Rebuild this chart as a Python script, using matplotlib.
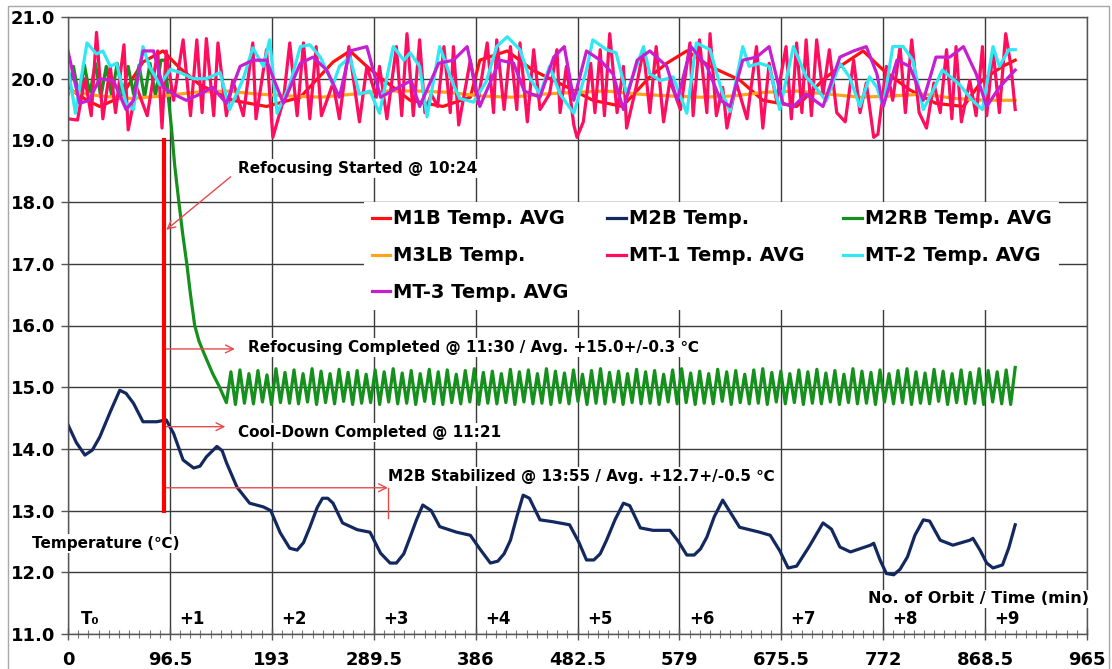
import numpy as np
import matplotlib
matplotlib.use('Agg')
import matplotlib.pyplot as plt
from matplotlib.patches import Rectangle
from matplotlib.ticker import MultipleLocator

plt.rcParams['font.family'] = ['DejaVu Sans', 'Noto Sans CJK KR']
plt.rcParams['font.weight'] = 'bold'

# ---- data (time in minutes, temperature in degC) ----
m1b_x = [0, 18, 30, 50, 71, 90, 106, 125, 156, 188, 220, 251, 267, 283, 295, 324, 355, 381, 390,
         416, 440, 472, 497, 525, 551, 567, 586, 608, 636, 658, 690, 715, 731, 753, 772, 797,
         822, 848, 866, 885, 897]
m1b_y = [19.85, 19.65, 19.55, 19.7, 20.27, 20.45, 20.17, 19.9, 19.65, 19.55, 19.7, 20.27, 20.45,
         20.2, 20.03, 19.65, 19.55, 19.7, 20.3, 20.45, 20.14, 19.87, 19.65, 19.55, 20.03, 20.25,
         20.45, 20.2, 19.98, 19.65, 19.55, 19.98, 20.2, 20.45, 20.14, 19.82, 19.6, 19.55, 19.98,
         20.2, 20.3]

m2b_x = [0, 8, 16, 23, 30, 40, 49, 55, 62, 71, 84, 93, 100, 109, 119, 125, 131, 141, 146, 150,
         160, 172, 185, 192, 201, 210, 217, 223, 229, 236, 241, 246, 251, 260, 274, 286, 296,
         305, 311, 318, 324, 330, 336, 344, 352, 368, 381, 390, 400, 407, 413, 419, 425, 431,
         437, 447, 459, 475, 484, 491, 498, 504, 510, 518, 526, 532, 542, 554, 570, 578, 586,
         593, 599, 605, 612, 620, 628, 636, 655, 665, 674, 682, 690, 702, 715, 723, 731, 741,
         760, 763, 769, 775, 782, 788, 795, 802, 810, 816, 826, 838, 854, 857, 864, 870, 876,
         885, 891, 897]
m2b_y = [14.39, 14.1, 13.9, 13.98, 14.19, 14.6, 14.95, 14.9, 14.74, 14.44, 14.44, 14.47, 14.25,
         13.82, 13.69, 13.72, 13.87, 14.04, 13.97, 13.78, 13.38, 13.12, 13.06, 13.0, 12.64,
         12.39, 12.36, 12.48, 12.73, 13.05, 13.2, 13.2, 13.12, 12.8, 12.69, 12.65, 12.31, 12.15,
         12.15, 12.3, 12.57, 12.85, 13.09, 13.0, 12.74, 12.65, 12.6, 12.38, 12.15, 12.18, 12.3,
         12.52, 12.9, 13.25, 13.2, 12.85, 12.82, 12.77, 12.48, 12.2, 12.2, 12.3, 12.52, 12.85,
         13.12, 13.08, 12.72, 12.68, 12.68, 12.5, 12.28, 12.28, 12.38, 12.57, 12.9, 13.17, 12.95,
         12.73, 12.65, 12.6, 12.35, 12.07, 12.1, 12.42, 12.8, 12.7, 12.41, 12.33, 12.44, 12.47,
         12.2, 11.98, 11.96, 12.05, 12.25, 12.6, 12.85, 12.83, 12.52, 12.44, 12.52, 12.55, 12.35,
         12.15, 12.07, 12.12, 12.4, 12.77]

# M2RB: before refocusing, the cool-down ramp, then controlled oscillation
m2rb_pre = [19.75, 20.2, 19.7, 20.22, 19.75, 20.25, 19.7, 20.2, 19.72, 20.25, 19.7, 20.2,
            19.75, 20.22, 19.7, 20.25, 19.72, 20.3]
m2rb_fall_x = [92, 95, 98, 101, 105, 108.5, 112.5, 116, 120, 124, 128, 133, 137, 143]
m2rb_fall_y = [20.3, 19.7, 19.2, 18.6, 18.0, 17.5, 17.0, 16.5, 16.0, 15.75, 15.58, 15.38,
               15.22, 15.02]
m2rb_osc = [
    14.75, 15.25, 14.72, 15.28, 14.74, 15.22, 14.73, 15.27, 14.76, 15.2, 14.72, 15.3, 14.75, 15.24, 14.74, 15.28,
    14.73, 15.22, 14.76, 15.3, 14.72, 15.26, 14.75, 15.22, 14.73, 15.29, 14.77, 15.24, 14.72, 15.27, 14.74, 15.21,
    14.75, 15.28, 14.72, 15.25, 14.76, 15.3, 14.73, 15.23, 14.74, 15.27, 14.72, 15.22, 14.77, 15.29, 14.73, 15.25,
    14.72, 15.28, 14.75, 15.21, 14.73, 15.27, 14.76, 15.3, 14.72, 15.24, 14.74, 15.26, 14.73, 15.22, 14.75, 15.29,
    14.72, 15.25, 14.76, 15.28, 14.73, 15.22, 14.74, 15.3, 14.72, 15.26, 14.75, 15.23, 14.73, 15.28, 14.77, 15.21,
    14.72, 15.27, 14.74, 15.3, 14.73, 15.24, 14.76, 15.26, 14.72, 15.22, 14.75, 15.29, 14.73, 15.25, 14.74, 15.27,
    14.72, 15.21, 14.76, 15.28, 14.73, 15.3, 14.75, 15.23, 14.72, 15.26, 14.74, 15.22, 14.73, 15.29, 14.77, 15.25,
    14.72, 15.27, 14.75, 15.21, 14.73, 15.28, 14.74, 15.3, 14.72, 15.24, 14.76, 15.26, 14.73, 15.22, 14.75, 15.28,
    14.72, 15.25, 14.74, 15.29, 14.73, 15.23, 14.76, 15.27, 14.72, 15.21, 14.75, 15.3, 14.73, 15.26, 14.74, 15.24,
    14.72, 15.28, 14.76, 15.22, 14.73, 15.27, 14.75, 15.3, 14.72, 15.25, 14.74, 15.23, 14.73, 15.29, 14.77, 15.26,
    14.72, 15.22, 14.75, 15.28, 14.73, 15.24, 14.74, 15.3, 14.72, 15.27, 14.76, 15.25, 14.73, 15.28, 14.72, 15.32,
]

m3lb_x = [0, 30, 60, 90, 120, 150, 180, 210, 240, 270, 300, 330, 360, 390, 420, 450, 480, 510,
          540, 570, 600, 630, 660, 690, 720, 750, 780, 810, 840, 870, 897]
m3lb_y = [19.8, 19.72, 19.68, 19.72, 19.78, 19.8, 19.75, 19.72, 19.7, 19.75, 19.8, 19.8, 19.78,
          19.72, 19.7, 19.75, 19.78, 19.8, 19.75, 19.72, 19.7, 19.72, 19.78, 19.8, 19.75, 19.7,
          19.72, 19.75, 19.68, 19.65, 19.65]

mt1_x = [0, 9, 16, 22, 27, 33, 40, 45, 53, 57, 65, 75, 85, 89, 93, 100, 109, 116, 122, 127, 131,
         138, 142, 150, 156, 166, 175, 178, 188, 194, 204, 210, 217, 223, 229, 235, 240, 251, 257,
         266, 276, 283, 292, 295, 302, 311, 316, 321, 327, 333, 338, 344, 350, 356, 362, 365, 370,
         381, 388, 397, 403, 406, 413, 419, 425, 428, 435, 441, 447, 456, 463, 466, 472, 479, 482,
         488, 495, 499, 504, 508, 513, 520, 526, 529, 538, 545, 551, 557, 564, 570, 580, 589, 592,
         598, 605, 608, 614, 620, 624, 633, 643, 652, 658, 664, 671, 680, 685, 690, 695, 699, 704,
         709, 715, 721, 728, 736, 744, 750, 756, 763, 767, 775, 781, 788, 793, 799, 806, 813, 820,
         826, 832, 837, 841, 846, 854, 860, 866, 870, 876, 882, 888, 893, 897]
mt1_y = [19.35, 19.33, 20.0, 19.4, 20.75, 19.35, 20.2, 19.45, 20.55, 19.17, 19.86, 19.4, 20.45,
         19.2, 20.45, 19.65, 20.63, 19.4, 20.63, 19.45, 20.65, 19.4, 20.58, 19.4, 19.97, 19.4,
         20.58, 19.35, 20.47, 19.05, 19.65, 20.58, 19.4, 20.58, 19.35, 20.52, 19.4, 19.93, 19.35,
         20.52, 19.3, 20.2, 19.7, 20.2, 19.35, 20.52, 19.4, 20.73, 19.4, 20.63, 19.45, 19.75,
         19.55, 20.52, 19.45, 20.52, 19.25, 20.3, 19.6, 20.58, 19.45, 20.63, 19.5, 20.52, 19.5,
         20.58, 19.3, 20.47, 19.5, 19.75, 20.47, 19.45, 20.2, 19.25, 19.05, 19.3, 20.25, 19.45,
         20.47, 19.4, 20.73, 19.45, 20.2, 19.2, 19.86, 20.47, 19.45, 20.52, 19.3, 19.97, 19.5,
         20.58, 19.4, 20.63, 19.45, 20.73, 19.4, 19.86, 19.2, 19.93, 19.35, 20.52, 19.2, 20.25,
         19.65, 20.52, 19.35, 20.58, 19.45, 20.63, 19.4, 20.63, 19.75, 20.47, 19.45, 19.3, 20.3,
         19.45, 19.93, 19.05, 19.1, 20.2, 19.65, 20.52, 19.45, 20.63, 19.45, 19.2, 19.93, 19.45,
         20.47, 19.35, 20.52, 19.3, 19.97, 19.4, 20.52, 19.4, 20.47, 19.45, 20.73, 20.2, 19.5]

mt2_x = [0, 7, 18, 27, 33, 40, 46, 55, 62, 71, 77, 87, 97, 106, 119, 131, 144, 153, 166, 175,
         185, 191, 198, 210, 220, 229, 239, 251, 257, 267, 276, 286, 295, 308, 318, 324, 333, 340,
         352, 365, 371, 384, 396, 406, 416, 428, 437, 447, 456, 466, 479, 491, 497, 510, 519, 529,
         545, 551, 561, 573, 586, 595, 608, 620, 627, 639, 645, 655, 664, 674, 687, 699, 708, 718,
         731, 740, 750, 759, 766, 772, 781, 791, 800, 810, 819, 828, 844, 857, 866, 876, 882, 891,
         897]
mt2_y = [20.19, 19.44, 20.58, 20.4, 20.45, 20.2, 20.25, 19.6, 19.5, 20.52, 20.2, 19.9, 20.15,
         20.1, 20.0, 20.0, 20.1, 19.5, 20.0, 20.5, 20.2, 20.63, 19.44, 19.9, 20.52, 20.55, 20.35,
         19.9, 20.2, 20.35, 19.75, 19.8, 19.44, 20.52, 20.3, 20.42, 20.2, 19.38, 20.52, 19.9,
         19.68, 19.62, 19.95, 20.52, 20.68, 20.47, 20.02, 19.75, 20.2, 19.75, 19.44, 20.14, 20.63,
         20.47, 20.42, 19.75, 20.52, 20.08, 19.97, 20.03, 19.44, 20.58, 20.47, 19.75, 19.47, 20.52,
         20.2, 20.25, 20.2, 19.5, 20.52, 20.03, 19.86, 19.64, 20.25, 20.03, 19.55, 20.03, 19.86,
         19.55, 20.52, 20.52, 20.3, 19.5, 19.8, 20.14, 19.91, 19.64, 19.5, 20.52, 20.2, 20.47,
         20.47]

mt3_x = [0, 11, 20, 30, 43, 55, 62, 71, 81, 90, 100, 112, 125, 137, 150, 163, 175, 188, 194, 204,
         220, 232, 245, 257, 267, 283, 296, 313, 325, 333, 351, 365, 378, 390, 409, 422, 432, 447,
         460, 470, 479, 491, 504, 516, 526, 539, 551, 567, 577, 590, 605, 618, 627, 639, 652, 664,
         677, 687, 699, 715, 731, 744, 756, 766, 772, 785, 797, 810, 822, 835, 848, 860, 870, 882,
         897]
mt3_y = [20.45, 19.6, 19.65, 20.0, 19.97, 19.5, 19.65, 20.45, 20.45, 19.86, 19.75, 19.65, 19.75,
         19.86, 19.6, 20.2, 20.3, 20.3, 20.03, 19.6, 20.25, 20.35, 20.14, 19.7, 20.45, 20.52, 19.7,
         19.86, 19.97, 19.55, 20.25, 20.3, 20.52, 19.55, 20.3, 20.25, 19.8, 19.7, 20.35, 20.52,
         19.65, 20.45, 20.3, 20.08, 19.5, 20.3, 20.45, 20.2, 19.65, 20.52, 20.2, 19.65, 19.55,
         20.3, 20.35, 20.52, 19.6, 19.55, 19.75, 19.55, 20.35, 20.45, 20.52, 20.08, 19.55, 20.3,
         20.2, 19.65, 20.35, 20.35, 20.52, 20.08, 19.55, 19.86, 20.14]

series_names = ['M1B Temp. AVG', 'M2B Temp.', 'M2RB Temp. AVG', 'M3LB Temp.',
                'MT-1 Temp. AVG', 'MT-2 Temp. AVG', 'MT-3 Temp. AVG']
series_colors = ['#ff1010', '#13285e', '#16901c', '#ffa41c', '#ff0d5e', '#2fe8f2', '#c61fd0']

orbit_len = 96.5
orbit_labels = ['T\u2080', '+1', '+2', '+3', '+4', '+5', '+6', '+7', '+8', '+9']

# event markers
refocus_start = 91
notes = [
    ('Refocusing Started @ 10:24', 161, 18.55),
    ('Refocusing Completed @ 11:30 / Avg. +15.0+/-0.3 \u2103', 170, 15.64),
    ('Cool-Down Completed @ 11:21', 161, 14.27),
    ('M2B Stabilized @ 13:55 / Avg. +12.7+/-0.5 \u2103', 303, 13.55),
]
arrows = [  # (x_from, y_from, x_to, y_to)
    (154, 18.41, 93, 17.55),
    (93, 15.62, 158, 15.62),
    (93, 14.36, 149, 14.36),
    (93, 13.37, 303, 13.37),
]

# ---- figure ----
fig = plt.figure(figsize=(11.12, 6.69), dpi=100)
ax = fig.add_axes([68/1112, 35/669, 1019/1112, 617/669])

lw = 2.3
m2rb_x = np.concatenate([np.linspace(0, 88, len(m2rb_pre)), m2rb_fall_x,
                         np.linspace(150, 897, len(m2rb_osc))])
m2rb_y = np.concatenate([m2rb_pre, m2rb_fall_y, m2rb_osc])

all_x = [m1b_x, m2b_x, m2rb_x, m3lb_x, mt1_x, mt2_x, mt3_x]
all_y = [m1b_y, m2b_y, m2rb_y, m3lb_y, mt1_y, mt2_y, mt3_y]
handles = []
for xs, ys, name, c in zip(all_x, all_y, series_names, series_colors):
    h, = ax.plot(xs, ys, color=c, lw=lw, label=name, solid_joinstyle='round')
    handles.append(h)

ax.plot([refocus_start, refocus_start], [13.0, 19.0], color='#ff0000', lw=3, zorder=4)
for x0, y0, x1, y1 in arrows:
    ax.annotate('', xy=(x1, y1), xytext=(x0, y0),
                arrowprops=dict(arrowstyle='->', color='#e64a4a', lw=1,
                                shrinkA=0, shrinkB=0, mutation_scale=14))
ax.plot([303, 303], [13.37, 12.88], color='#e64a4a', lw=1)

for txt, x, y in notes:
    ax.text(x, y, txt, fontsize=11, fontweight='bold', va='center', ha='left',
            bbox=dict(facecolor='white', edgecolor='none', pad=1.5), zorder=5)

ax.text(-34, 12.47, 'Temperature (\u2103)', fontsize=11, fontweight='bold',
        va='center', ha='left', bbox=dict(facecolor='white', edgecolor='none', pad=1.5),
        zorder=6, clip_on=False)
ax.text(967, 11.57, 'No. of Orbit / Time (min)', fontsize=11.5, fontweight='bold',
        va='center', ha='right', bbox=dict(facecolor='white', edgecolor='none', pad=1), zorder=5)
for k, lab in enumerate(orbit_labels):
    ax.text(k*orbit_len + 21, 11.25, lab, fontsize=12, fontweight='bold',
            va='center', ha='center')

# legend: column-wise order to get the row layout
order = [0, 3, 6, 1, 4, 2, 5]
leg = ax.legend([handles[i] for i in order], [series_names[i] for i in order],
                ncol=3, loc='upper left', bbox_to_anchor=(0.2807, 0.7164),
                frameon=True, fancybox=False, facecolor='white', edgecolor='none',
                framealpha=1, fontsize=14, handlelength=0.95, handletextpad=0.15,
                columnspacing=2.0, labelspacing=0.92, borderpad=0.4)
for t in leg.get_texts():
    t.set_fontweight('bold')

ax.set_xlim(0, 965)
ax.set_ylim(11, 21)
ax.xaxis.set_minor_locator(MultipleLocator(orbit_len / 10))
xt = np.arange(0, 965.1, orbit_len)
ax.set_xticks(xt)
ax.set_xticklabels([('%g' % v) for v in xt])
yt = np.arange(11, 21.1, 1.0)
ax.set_yticks(yt)
ax.set_yticklabels(['%.1f' % v for v in yt])
ax.tick_params(axis='x', which='major', direction='inout', length=8, width=1,
               labelsize=13, pad=8, color='#555555')
ax.tick_params(axis='x', which='minor', direction='inout', length=6, width=0.8, color='#777777')
ax.tick_params(axis='y', which='major', direction='out', length=5, width=1,
               labelsize=13, pad=4, color='#555555')
for lab in ax.get_xticklabels() + ax.get_yticklabels():
    lab.set_fontweight('bold')

ax.grid(True, which='major', color='#3a3a3a', lw=1)
ax.set_axisbelow(True)
for sp in ax.spines.values():
    sp.set_color('#555555')
    sp.set_linewidth(1)

fig.patches.append(Rectangle((8/1112, -0.01), 1101/1112, (669-6)/669 + 0.01,
                             transform=fig.transFigure, fill=False,
                             edgecolor='#a8a8a8', lw=1))

fig.savefig('out.png', dpi=100)
